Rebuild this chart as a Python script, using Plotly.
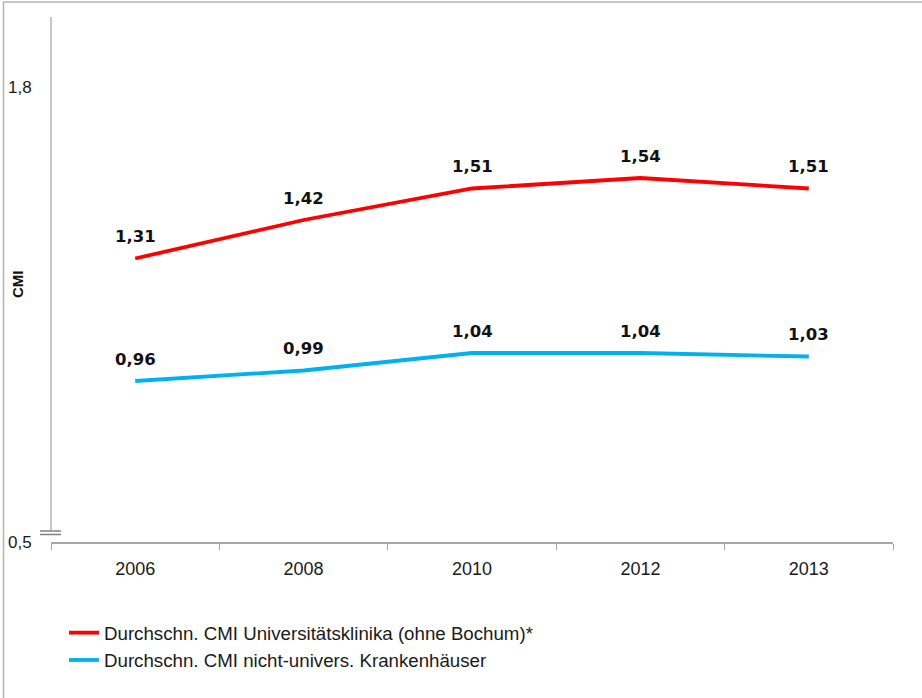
import plotly.graph_objects as go

years = ["2006", "2008", "2010", "2012", "2013"]
uni_cmi = [1.31, 1.42, 1.51, 1.54, 1.51]
non_uni_cmi = [0.96, 0.99, 1.04, 1.04, 1.03]
series_names = ["Durchschn. CMI Universitätsklinika (ohne Bochum)*",
                "Durchschn. CMI nicht-univers. Krankenhäuser"]
series_colors = ["#FF0000", "#00B0F0"]
y_ticks = [0.5, 1.8]
y_range = [0.5, 2.0]

W, H = 922, 698
ML, MR, MT, MB = 51, 29, 17, 156
PW, PH = W - ML - MR, H - MT - MB

def px_x(p):
    return (p - ML) / PW

def px_y(p):
    return (H - MB - p) / PH

FONT = "Liberation Sans, Arial, sans-serif"
BOLD_FONT = "DejaVu Sans, Liberation Sans, sans-serif"
AX = "#A6A6A6"
TXT = "#1a1a1a"

fig = go.Figure()
for vals, name, col in zip([uni_cmi, non_uni_cmi], series_names, series_colors):
    fig.add_trace(go.Scatter(x=years, y=vals, mode="lines", name=name,
                             line=dict(color=col, width=3.8), hoverinfo="skip"))

annotations = []
for vals in [uni_cmi, non_uni_cmi]:
    for i, v in enumerate(vals):
        annotations.append(dict(x=i, y=v, text=f"{v:.2f}".replace(".", ","),
                                showarrow=False, yshift=22,
                                font=dict(family=BOLD_FONT, size=16.5, color="#111111",
                                          weight="bold")))
annotations.append(dict(xref="paper", yref="paper", x=px_x(17), y=px_y(284),
                        xanchor="center", yanchor="middle",
                        text="<b>CMI</b>", textangle=-90, showarrow=False,
                        font=dict(family=FONT, size=15, color="#111111")))

shapes = [
    # y axis line with break
    dict(type="line", xref="paper", yref="paper", x0=0, x1=0, y0=px_y(530), y1=1,
         line=dict(color=AX, width=1.3)),
    dict(type="line", xref="paper", yref="paper", x0=px_x(40), x1=px_x(61),
         y0=px_y(531), y1=px_y(531), line=dict(color="#808080", width=1.5)),
    dict(type="line", xref="paper", yref="paper", x0=px_x(40), x1=px_x(61),
         y0=px_y(534.5), y1=px_y(534.5), line=dict(color="#808080", width=1.5)),
    # outer frame (top and left)
    dict(type="line", xref="paper", yref="paper", x0=px_x(3), x1=px_x(922),
         y0=px_y(2), y1=px_y(2), line=dict(color="#B3B3B3", width=1.5)),
    dict(type="line", xref="paper", yref="paper", x0=px_x(3.5), x1=px_x(3.5),
         y0=px_y(2), y1=px_y(698), line=dict(color="#B3B3B3", width=1.5)),
]

fig.update_layout(
    width=W, height=H,
    margin=dict(l=ML, r=MR, t=MT, b=MB, autoexpand=False),
    paper_bgcolor="white", plot_bgcolor="white",
    separators=",.",
    font=dict(family=FONT, size=17, color=TXT),
    showlegend=True,
    legend=dict(x=px_x(64), y=px_y(614), xanchor="left", yanchor="top",
                font=dict(family=FONT, size=18.7, color=TXT),
                bgcolor="rgba(0,0,0,0)", itemwidth=30, tracegroupgap=0),
    xaxis=dict(type="category", range=[-0.5, len(years) - 0.5], autorange=False,
               automargin=False, showline=True, linecolor=AX, linewidth=1.5,
               ticks="outside", tickson="boundaries", ticklen=6, tickcolor=AX,
               tickwidth=1.3, showgrid=False, zeroline=False, tickangle=0,
               ticklabelstandoff=10,
               tickfont=dict(size=18, color=TXT)),
    yaxis=dict(range=y_range, autorange=False, automargin=False, tickvals=y_ticks,
               tickformat=".1f", showline=False,
               showgrid=False, zeroline=False, ticks="outside", ticklen=15,
               tickcolor="rgba(0,0,0,0)", tickfont=dict(size=17, color=TXT)),
    annotations=annotations,
    shapes=shapes,
)

fig.write_html("out.html", config={"displayModeBar": False},
               post_script="document.body.style.margin='0';")
